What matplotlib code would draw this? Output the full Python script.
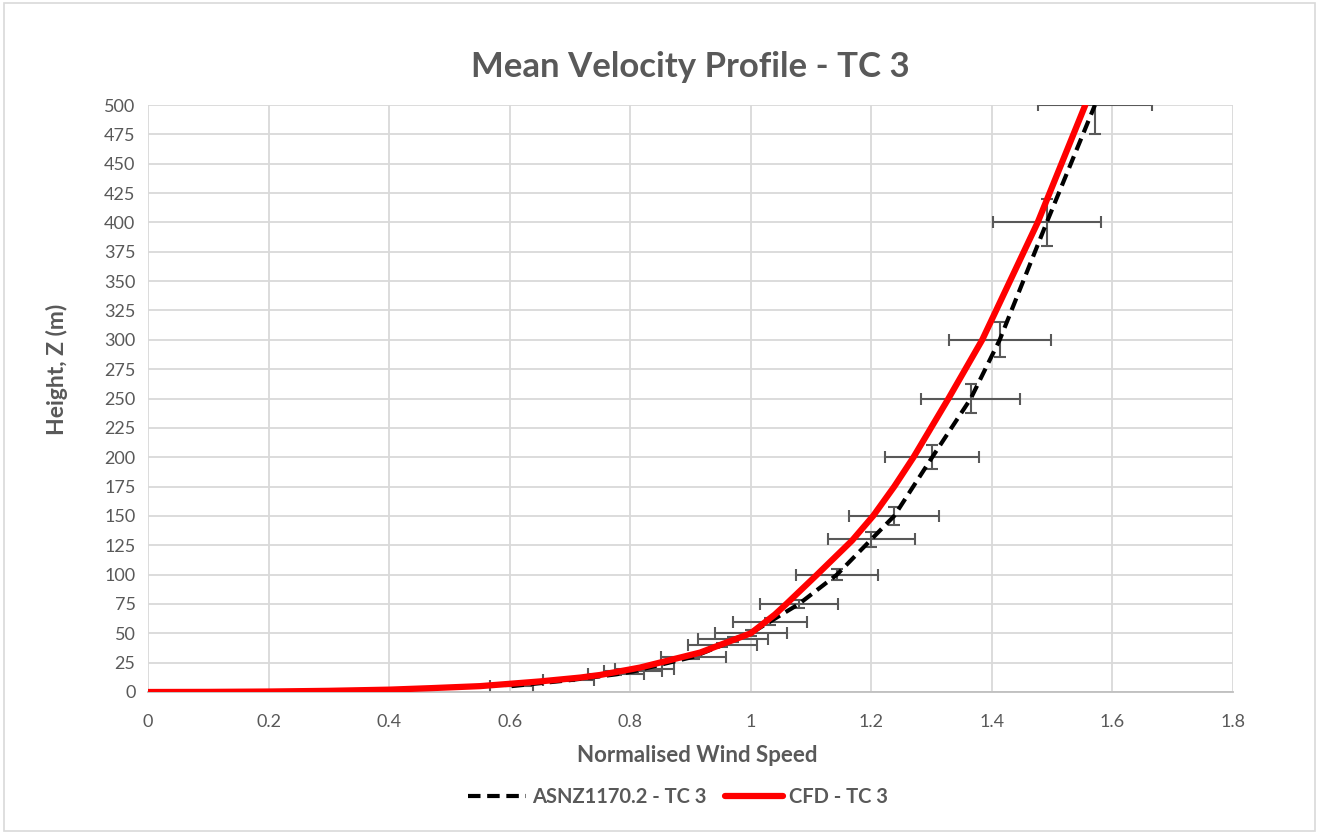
import numpy as np
import matplotlib
matplotlib.use("Agg")
import matplotlib.pyplot as plt
from matplotlib.patches import Rectangle

# ASNZ1170.2 - TC 3 points (normalised speed, height m)
asnz_z = [5, 10, 15, 17.5, 20, 30, 40, 45, 50, 60, 75, 100, 130, 150, 200, 250, 300, 400, 500]
asnz_v = [0.603, 0.698, 0.776, 0.805, 0.824, 0.905, 0.953, 0.971, 1.000, 1.032, 1.080,
          1.143, 1.200, 1.238, 1.301, 1.365, 1.413, 1.491, 1.571]

# CFD - TC 3 profile
cfd_z = [0, 0.1, 0.4, 1.0, 2.0, 3.3, 5, 9, 12.3, 14.5, 20.8, 33.6, 50, 66, 75, 100, 129, 150,
         175, 200, 250, 300, 400, 500]
cfd_v = [0, 0.1, 0.2, 0.3, 0.4, 0.47, 0.551, 0.65, 0.717, 0.75, 0.816, 0.916, 1.0, 1.04,
         1.059, 1.11, 1.168, 1.203, 1.238, 1.27, 1.328, 1.384, 1.476, 1.555]

x_ticks = [0, 0.2, 0.4, 0.6, 0.8, 1.0, 1.2, 1.4, 1.6, 1.8]
x_labels = ["0", "0.2", "0.4", "0.6", "0.8", "1", "1.2", "1.4", "1.6", "1.8"]
y_ticks = list(range(0, 501, 25))

grey = "#595959"
plt.rcParams["font.family"] = ["Lato", "DejaVu Sans"]

fig = plt.figure(figsize=(13.19, 8.34), dpi=100)
ax = fig.add_axes([148/1319, 1 - 692/834, (1233-148)/1319, (692-105)/834])

# chart area border
fig.patches.append(Rectangle((0.003, 0.004), 0.994, 0.992, transform=fig.transFigure,
                             fill=False, edgecolor="#d9d9d9", lw=1.2))

xe = [0.06*v for v in asnz_v]
ye = [0.05*z for z in asnz_z]
ax.errorbar(asnz_v, asnz_z, xerr=xe, yerr=ye, fmt="none", ecolor=grey, elinewidth=1.5,
            capsize=4, capthick=1.5, zorder=2)
ax.plot(asnz_v, asnz_z, color="black", lw=3, linestyle=(0, (3, 1.6)),
        label="ASNZ1170.2 - TC 3", zorder=3)
ax.plot(cfd_v, cfd_z, color="#ff0000", lw=4.5, label="CFD - TC 3", zorder=4,
        solid_capstyle="round", solid_joinstyle="round")

ax.set_xlim(0, 1.8)
ax.set_ylim(0, 500)
ax.set_xticks(x_ticks)
ax.set_xticklabels(x_labels)
ax.set_yticks(y_ticks)
ax.tick_params(length=0, labelsize=13, labelcolor=grey)
ax.tick_params(axis="x", pad=16)
ax.tick_params(axis="y", pad=9)
ax.grid(True, color="#d9d9d9", lw=1.3, zorder=0)
ax.set_axisbelow(True)
for s in ["top", "right", "left"]:
    ax.spines[s].set_visible(False)
ax.spines["bottom"].set_color("#bfbfbf")
ax.spines["bottom"].set_linewidth(1.3)

ax.set_title("Mean Velocity Profile - TC 3", fontsize=25, fontweight="bold",
             color=grey, pad=20)
ax.set_xlabel("Normalised Wind Speed", fontsize=16, fontweight="bold", color=grey)
ax.set_ylabel("Height, Z (m)", fontsize=16.5, fontweight="bold", color=grey)
ax.xaxis.set_label_coords((697 - 148) / 1085, -0.09)
ax.yaxis.set_label_coords((68 - 148) / 1085, 0.55)

leg = fig.legend(loc="center", bbox_to_anchor=(678/1319, 1 - 797/834), ncol=2,
                 frameon=False, handlelength=2.9, columnspacing=0.9, handletextpad=0.3,
                 prop={"size": 14.5, "weight": "bold"})
for t in leg.get_texts():
    t.set_color(grey)

fig.savefig("out.png", dpi=100)
